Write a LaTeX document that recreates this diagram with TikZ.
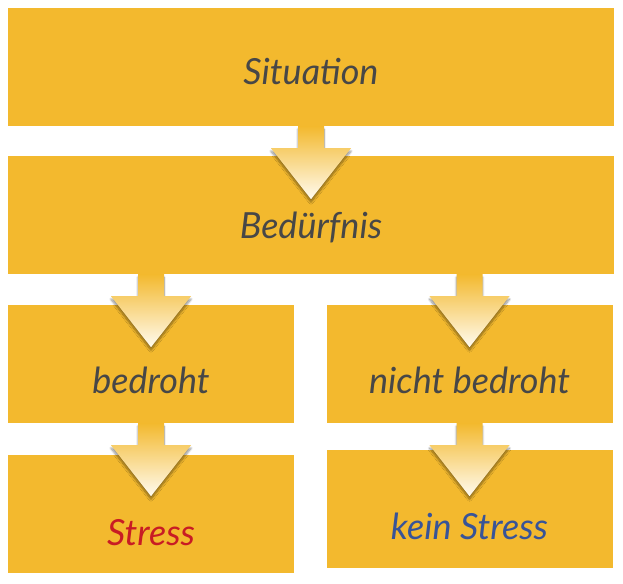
\documentclass[tikz,border=0pt]{standalone}
\usepackage{fontspec}
\setmainfont{Lato}
\usetikzlibrary{calc,shadows.blur}
\definecolor{kasten}{RGB}{243,185,46}
\definecolor{schrift}{RGB}{71,71,71}
\definecolor{rot}{RGB}{200,28,36}
\definecolor{blau}{RGB}{56,84,152}
\definecolor{creme}{RGB}{255,251,240}
\tikzset{
	kasten/.style={fill=kasten, inner sep=0pt, minimum height=118pt, text=schrift, font=\fontsize{36}{40}\selectfont\itshape, text depth=0pt},
	breit/.style={kasten, minimum width=606pt},
	halb/.style={kasten, minimum width=286pt},
	pfeil/.style={top color=kasten, bottom color=creme, blur shadow={shadow xshift=0pt, shadow yshift=-3pt, shadow opacity=45, shadow blur steps=10}}
}

\begin{document}
\begin{tikzpicture}[x=1pt,y=-1pt]
	\useasboundingbox (0,0) rectangle (623,583);
	\node[breit, text height=36pt] (sit) at (311,67) {Situation};
	\node[breit, text height=46pt] (bed) at (311,215) {Bedürfnis};
	\node[halb, text height=58pt] (bedroht) at (151,364) {bedroht};
	\node[halb, text height=58pt] (nicht) at (469.5,364) {nicht bedroht};
	\node[halb, text height=62pt, text=rot] (stress) at (151,514) {Stress};
	\node[halb, text height=60pt, text=blau] (kein) at (469.5,509) {kein Stress};
	% Pfeile
	\coordinate (p1) at (sit.south -| bed.center);
	\coordinate (p2) at (bed.south -| bedroht.center);
	\coordinate (p3) at (bed.south -| nicht.center);
	\coordinate (p4) at (bedroht.south -| stress.center);
	\coordinate (p5) at (nicht.south -| kein.center);
	\foreach \p in {p1,p2,p3,p4,p5}
		\path[pfeil] (\p) ++(-13,0) -- ++(0,22) -- ++(-27,0) -- ++(40,51) -- ++(40,-51) -- ++(-27,0) -- ++(0,-22) -- cycle;
\end{tikzpicture}
\end{document}
